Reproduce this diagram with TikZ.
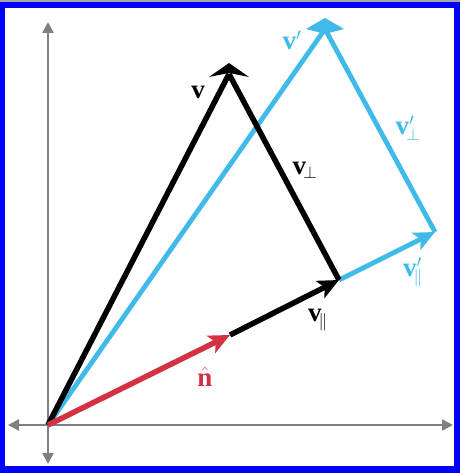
\documentclass[tikz,border=0pt]{standalone}
\usepackage{fontspec}
\setmainfont{Liberation Serif}
\usetikzlibrary{arrows.meta,calc}
\definecolor{skyb}{RGB}{64,186,232}
\definecolor{redv}{RGB}{210,50,65}
\definecolor{axg}{RGB}{128,128,128}
\definecolor{frameb}{RGB}{0,0,255}
\tikzset{
  axis/.style={draw=axg, line width=2.4pt, {Triangle[length=11pt,width=11pt]}-{Triangle[length=11pt,width=11pt]}},
  blk/.style={draw=black, line width=5.5pt},
  blu/.style={draw=skyb, line width=4.8pt},
  rd/.style={draw=redv, line width=5.5pt},
  head/.style={-{Stealth[length=21pt,width=19pt,inset=5pt]}},
  lab/.style={inner sep=0pt, font=\fontsize{27}{30}\selectfont\bfseries}
}
\begin{document}
\begin{tikzpicture}[x=1pt,y=-1pt]
\useasboundingbox (0,0) rectangle (460,473);
% frame
\fill[frameb] (0,0) rectangle (460,473);
\fill[white] (5,8) rectangle (454,466);
\fill[axg!70] (0,0) rectangle (460,2);
% points
\coordinate (O) at (48,425);
\coordinate (N) at (230,335);
\coordinate (P) at (339,280);
\coordinate (V) at (229,63);
\coordinate (Vp) at (325,18);
\coordinate (Vb) at (229,74);
\coordinate (Vpb) at (325,29);
\coordinate (Q) at (435,232);
\coordinate (xl) at (8,425);
\coordinate (xr) at (453,425);
\coordinate (yb) at (48,464);
\coordinate (yt) at (48,22);
% axes
\draw[axis] (xl) -- (xr);
\draw[axis] (yb) -- (yt);
% blue vectors
\draw[blu] (O) -- (Vpb);
\draw[blu] (Q) -- (Vpb);
\draw[blu,head] (P) -- (Q);
\fill[skyb] (Vp) -- (344,29) -- (325,34) -- (306,29) -- cycle;
% black vectors
\draw[blk] (O) -- (Vb);
\draw[blk] (P) -- (Vb);
\draw[blk,head] (N) -- (P);
\fill[black] (V) -- (249,77) -- (229,73) -- (209,77) -- cycle;
% red
\draw[rd,head] (O) -- (N);
% labels
\node[lab] (lv) at (198,92) {v};
\node[lab,text=skyb] (lvp) at (292,40) {v$'$};
\node[lab,text=skyb] (lvpp) at (408,128) {v$'_{\!\perp}$};
\node[lab] (lvperp) at (305,170) {v$_{\!\perp}$};
\node[lab,text=skyb] (lvpar) at (413,272) {v$'_{\!\parallel}$};
\node[lab] (lvp2) at (318,320) {v$_{\!\parallel}$};
\node[lab,text=redv] (ln) at (205,377) {$\hat{\textbf{n}}$};
\end{tikzpicture}
\end{document}
